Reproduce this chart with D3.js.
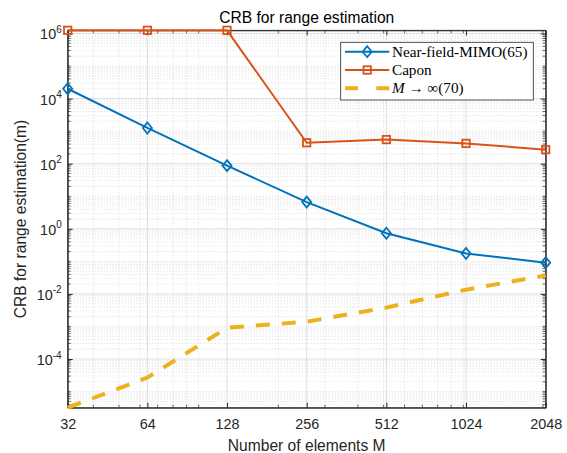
<!DOCTYPE html>
<html>
<head>
<meta charset="utf-8">
<script src="https://cdn.jsdelivr.net/npm/d3@7"></script>
<style>
  body { margin: 0; background: #fff; }
  svg { display: block; }
</style>
</head>
<body>
<div id="chart"></div>
<script>
// values
const elements = [32, 64, 128, 256, 512, 1024, 2048];
const nearFieldMimo = [2.0e4, 1.25e3, 87, 6.6, 0.73, 0.175, 0.091];
const capon = [1.25e6, 1.25e6, 1.25e6, 440, 550, 420, 270];
const asymptote = [3.2e-6, 2.7e-5, 9.1e-4, 1.4e-3, 3.8e-3, 1.35e-2, 3.7e-2];
const yTicks = [1e-4, 1e-2, 1e0, 1e2, 1e4, 1e6];
const yExponents = ["-4", "-2", "0", "2", "4", "6"];

const W = 567, H = 453;
const margin = {top: 30.3, right: 21.3, bottom: 45.3, left: 67.7};
const width = W - margin.left - margin.right;
const height = H - margin.top - margin.bottom;

const axisColor = "#262626";
const colors = {mimo: "#0072BD", capon: "#D95319", inf: "#EDB120"};

const svg = d3.select("#chart").append("svg")
    .attr("width", W).attr("height", H)
    .style("font-family", "'Liberation Sans', Arial, Helvetica, sans-serif");

const g = svg.append("g").attr("transform", `translate(${margin.left},${margin.top})`);

const x = d3.scaleLog().base(2).domain([32, 2048]).range([0, width]);
const y = d3.scaleLog().domain([3.2e-6, 1.25e6]).range([height, 0]);

// minor positions (MATLAB style, mantissa 1..9 of powers of ten)
const xMinor = [];
for (let e = 1; e <= 3; e++) for (let m = 1; m <= 9; m++) {
  const v = m * Math.pow(10, e);
  if (v > 32 && v < 2048) xMinor.push(v);
}
const yMinor = [];
for (let e = -6; e <= 6; e++) for (let m = 1; m <= 9; m++) {
  const v = m * Math.pow(10, e);
  if (v > 3.2e-6 && v < 1.25e6 && !yTicks.includes(v)) yMinor.push(v);
}

// grid
const grid = g.append("g");
grid.selectAll(".xminor").data(xMinor).enter().append("line")
    .attr("x1", d => x(d)).attr("x2", d => x(d)).attr("y1", 0).attr("y2", height)
    .attr("stroke", "#d4d4d4").attr("stroke-width", 0.8).attr("stroke-dasharray", "1,2");
grid.selectAll(".yminor").data(yMinor).enter().append("line")
    .attr("y1", d => y(d)).attr("y2", d => y(d)).attr("x1", 0).attr("x2", width)
    .attr("stroke", "#d4d4d4").attr("stroke-width", 0.8).attr("stroke-dasharray", "1,2");
grid.selectAll(".xmajor").data(elements).enter().append("line")
    .attr("x1", d => x(d)).attr("x2", d => x(d)).attr("y1", 0).attr("y2", height)
    .attr("stroke", "#dfdfdf").attr("stroke-width", 1);
grid.selectAll(".ymajor").data(yTicks).enter().append("line")
    .attr("y1", d => y(d)).attr("y2", d => y(d)).attr("x1", 0).attr("x2", width)
    .attr("stroke", "#dfdfdf").attr("stroke-width", 1);

// axes (ticks inside, box on)
const xAxisB = d3.axisBottom(x).tickValues(elements).tickFormat(d3.format("d")).tickSizeInner(-5).tickSizeOuter(0).tickPadding(12);
const xAxisT = d3.axisTop(x).tickValues(elements).tickFormat("").tickSizeInner(-5).tickSizeOuter(0);
const yAxisL = d3.axisLeft(y).tickValues(yTicks).tickFormat("").tickSizeInner(-5).tickSizeOuter(0);
const yAxisR = d3.axisRight(y).tickValues(yTicks).tickFormat("").tickSizeInner(-5).tickSizeOuter(0);

const gxb = g.append("g").attr("transform", `translate(0,${height})`).call(xAxisB);
g.append("g").call(xAxisT);
g.append("g").call(yAxisL);
g.append("g").attr("transform", `translate(${width},0)`).call(yAxisR);

// minor ticks
const minor = g.append("g").attr("stroke", axisColor).attr("stroke-width", 0.7);
yMinor.forEach(v => {
  minor.append("line").attr("x1", 0).attr("x2", 3).attr("y1", y(v)).attr("y2", y(v));
  minor.append("line").attr("x1", width).attr("x2", width - 3).attr("y1", y(v)).attr("y2", y(v));
});
xMinor.forEach(v => {
  minor.append("line").attr("y1", height).attr("y2", height - 3).attr("x1", x(v)).attr("x2", x(v));
  minor.append("line").attr("y1", 0).attr("y2", 3).attr("x1", x(v)).attr("x2", x(v));
});

g.selectAll(".domain").attr("stroke", axisColor);
g.selectAll(".tick line").attr("stroke", axisColor);
gxb.selectAll("text").attr("fill", axisColor).attr("dy", null).attr("y", 21.5)
    .style("font-size", "14.4px")
    .style("font-family", "'Liberation Sans', Arial, sans-serif");

// box
g.append("rect").attr("width", width).attr("height", height)
    .attr("fill", "none").attr("stroke", axisColor).attr("stroke-width", 0.8);

// y tick labels with superscripts
const ylab = g.append("g").attr("fill", axisColor);
yTicks.forEach((v, i) => {
  const t = ylab.append("text").attr("x", -6).attr("y", y(v) + 6)
      .attr("text-anchor", "end").style("font-size", "14.4px");
  t.append("tspan").text("10");
  t.append("tspan").attr("dy", -6.5).style("font-size", "10px").text(yExponents[i]);
});

// series
const line = d3.line().x(d => x(d[0])).y(d => y(d[1]));
const plot = g.append("g");

plot.append("path").datum(d3.zip(elements, asymptote))
    .attr("d", line).attr("fill", "none").attr("stroke", colors.inf)
    .attr("stroke-width", 4).attr("stroke-dasharray", "14,12");

plot.append("path").datum(d3.zip(elements, capon))
    .attr("d", line).attr("fill", "none").attr("stroke", colors.capon).attr("stroke-width", 2);
plot.selectAll(".sq").data(d3.zip(elements, capon)).enter().append("rect")
    .attr("x", d => x(d[0]) - 3.7).attr("y", d => y(d[1]) - 3.7)
    .attr("width", 7.4).attr("height", 7.4)
    .attr("fill", "none").attr("stroke", colors.capon).attr("stroke-width", 1.8);

plot.append("path").datum(d3.zip(elements, nearFieldMimo))
    .attr("d", line).attr("fill", "none").attr("stroke", colors.mimo).attr("stroke-width", 2);
const diamond = (cx, cy) => `M${cx},${cy - 5.5}L${cx + 4.5},${cy}L${cx},${cy + 5.5}L${cx - 4.5},${cy}Z`;
plot.selectAll(".dm").data(d3.zip(elements, nearFieldMimo)).enter().append("path")
    .attr("d", d => diamond(x(d[0]), y(d[1])))
    .attr("fill", "none").attr("stroke", colors.mimo).attr("stroke-width", 1.8);

// labels
svg.append("text").attr("x", margin.left + width / 2).attr("y", 23.3)
    .attr("text-anchor", "middle").attr("fill", "#000").style("font-size", "15.6px")
    .text("CRB for range estimation");
svg.append("text").attr("x", margin.left + width / 2).attr("y", 450.5)
    .attr("text-anchor", "middle").attr("fill", axisColor).style("font-size", "15.6px")
    .text("Number of elements M");
svg.append("text").attr("transform", `translate(25.5,${margin.top + height / 2}) rotate(-90)`)
    .attr("text-anchor", "middle").attr("fill", axisColor).style("font-size", "15.6px")
    .text("CRB for range estimation(m)");

// legend
const lg = svg.append("g");
lg.append("rect").attr("x", 340.7).attr("y", 42.3).attr("width", 192.6).attr("height", 57.7)
    .attr("fill", "#fff").attr("stroke", axisColor).attr("stroke-width", 0.8);
const rows = [
  {label: "Near-field-MIMO(65)", color: colors.mimo, marker: "diamond", yy: 51.7},
  {label: "Capon", color: colors.capon, marker: "square", yy: 70},
  {label: "inf", color: colors.inf, marker: null, yy: 88.3}
];
rows.forEach(r => {
  const l = lg.append("line").attr("x1", 345).attr("x2", 389.3).attr("y1", r.yy).attr("y2", r.yy)
      .attr("stroke", r.color).attr("stroke-width", r.marker ? 2 : 4);
  if (!r.marker) l.attr("stroke-dasharray", "13,18.3");
  if (r.marker === "diamond") lg.append("path").attr("d", diamond(367.2, r.yy))
      .attr("fill", "none").attr("stroke", r.color).attr("stroke-width", 1.8);
  if (r.marker === "square") lg.append("rect").attr("x", 367.2 - 3.7).attr("y", r.yy - 3.7)
      .attr("width", 7.4).attr("height", 7.4).attr("fill", "none").attr("stroke", r.color).attr("stroke-width", 1.8);
  const t = lg.append("text").attr("x", 392).attr("y", r.yy + 5)
      .attr("fill", "#000").style("font-family", "'Liberation Serif', 'Times New Roman', serif").style("font-size", "15.2px");
  if (r.label === "inf") {
    t.append("tspan").style("font-style", "italic").text("M");
    t.append("tspan").text(" \u2192 \u221E(70)");
  } else {
    t.text(r.label);
  }
});
</script>
</body>
</html>
